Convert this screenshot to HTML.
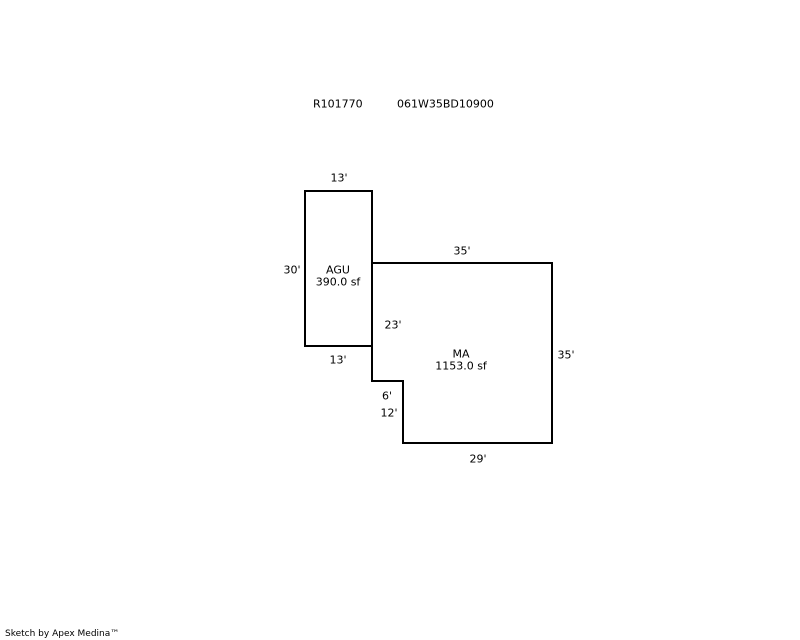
<!DOCTYPE html>
<html><head><style>
html,body{margin:0;padding:0;background:#fff;}
svg{display:block;}
text{font-family:"DejaVu Sans","Liberation Sans",sans-serif;font-size:11px;fill:#000;}
</style></head><body>
<svg width="800" height="640" viewBox="0 0 800 640" xmlns="http://www.w3.org/2000/svg">
<g fill="none" stroke="#000" stroke-width="2">
<rect x="305" y="191" width="67" height="155"/>
<polyline points="372,263 552,263 552,443 403,443 403,381 372,381 372,346"/>
</g>
<g dominant-baseline="central">
<text x="313" y="104">R101770</text>
<text x="397" y="104">061W35BD10900</text>
<text x="339" y="178" text-anchor="middle">13'</text>
<text x="292" y="270" text-anchor="middle">30'</text>
<text x="338" y="270" text-anchor="middle">AGU</text>
<text x="338" y="282" text-anchor="middle">390.0 sf</text>
<text x="462" y="251" text-anchor="middle">35'</text>
<text x="393" y="325" text-anchor="middle">23'</text>
<text x="461" y="354" text-anchor="middle">MA</text>
<text x="461" y="366" text-anchor="middle">1153.0 sf</text>
<text x="566" y="355" text-anchor="middle">35'</text>
<text x="338" y="360" text-anchor="middle">13'</text>
<text x="387" y="396" text-anchor="middle">6'</text>
<text x="389" y="413" text-anchor="middle">12'</text>
<text x="478" y="459" text-anchor="middle">29'</text>
<text x="5" y="634" style="font-size:9px">Sketch by Apex Medina™</text>
</g>
</svg>
</body></html>
